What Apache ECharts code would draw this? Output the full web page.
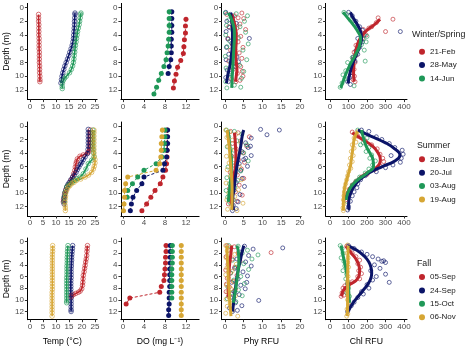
<!DOCTYPE html>
<html><head><meta charset="utf-8">
<script src="https://cdn.jsdelivr.net/npm/echarts@6/dist/echarts.min.js"></script>
<style>html,body{margin:0;padding:0;background:#fff}#c{width:468px;height:351px}</style>
</head><body><div id="c"></div>
<script>
// ---------- tick labels ----------
const depthTicks = [0, 2, 4, 6, 8, 10, 12];
const tempTicks = [0, 5, 10, 15, 20, 25];
const doTicks = [0, 4, 8, 12];
const phyTicks = [0, 5, 10, 15, 20];
const chlTicks = [0, 100, 200, 300, 400];

// ---------- groups ----------
const seasons = ['Winter/Spring', 'Summer', 'Fall'];
const datesWinter = ['21-Feb', '28-May', '14-Jun'];
const datesSummer = ['28-Jun', '20-Jul', '03-Aug', '19-Aug'];
const datesFall = ['05-Sep', '24-Sep', '15-Oct', '06-Nov'];
const palette = ['#bf252c', '#0b1468', '#1f9858', '#d6a634'];

// ---------- Temperature profiles [temp, depth] ----------
const tempFeb21 = [[3.3,1.0],[3.3,1.5],[3.3,2.0],[3.4,2.5],[3.4,3.0],[3.4,3.5],[3.4,4.0],[3.5,4.5],[3.5,5.0],[3.5,5.5],[3.5,6.0],[3.6,6.5],[3.6,7.0],[3.6,7.5],[3.6,8.0],[3.7,8.5],[3.7,9.0],[3.7,9.5],[3.8,10.0],[3.8,10.5],[3.8,10.8]];
const tempMay28 = [[17.3,0.8],[17.3,1.0],[17.2,1.5],[17.1,2.0],[17.1,2.5],[17.0,3.0],[16.9,3.5],[16.8,4.0],[16.7,4.5],[16.5,5.0],[16.2,5.5],[15.8,6.0],[15.3,6.5],[14.9,7.0],[14.4,7.5],[13.9,8.0],[13.4,8.5],[13.0,9.0],[12.6,9.5],[12.3,10.0],[12.1,10.5],[11.9,11.0]];
const tempJun14 = [[19.6,0.8],[19.5,1.0],[19.3,1.5],[19.1,2.0],[18.9,2.5],[18.6,3.0],[18.3,3.5],[18.1,4.0],[17.9,4.5],[17.7,5.0],[17.5,5.5],[17.3,6.0],[17.2,6.5],[17.0,7.0],[16.9,7.5],[16.7,8.0],[16.4,8.5],[15.9,9.0],[15.2,9.5],[14.0,10.0],[13.3,10.3],[12.8,10.6],[12.5,11.0],[12.4,11.5],[12.4,11.8]];
const tempJun28 = [[23.2,0.6],[23.2,1.0],[23.2,1.5],[23.2,2.0],[23.1,2.5],[23.1,3.0],[23.0,3.5],[22.6,3.8],[22.1,4.0],[20.5,4.3],[19.2,4.5],[18.2,4.9],[17.9,5.3],[17.7,5.6],[17.4,6.1],[17.2,6.6],[16.8,7.1],[16.4,7.6],[15.9,8.0],[15.4,8.4],[14.7,8.8],[14.1,9.1],[13.8,9.5],[13.5,9.9],[13.3,10.2],[13.1,10.6],[12.9,11.0],[12.8,11.3]];
const tempJul20 = [[22.4,0.5],[22.4,1.0],[22.4,1.5],[22.4,2.0],[22.4,2.5],[22.4,3.0],[22.3,3.5],[22.1,4.1],[21.2,4.6],[20.5,5.0],[19.9,5.4],[19.4,5.7],[18.8,6.1],[18.2,6.5],[17.7,6.9],[17.0,7.3],[16.4,7.6],[15.7,8.0],[15.1,8.4],[14.6,8.7],[14.1,9.1],[13.8,9.5],[13.5,9.9],[13.3,10.4],[13.1,10.8],[13.1,11.2],[13.1,11.6]];
const tempAug03 = [[24.2,0.6],[24.2,1.0],[24.2,1.5],[24.2,2.0],[24.2,2.5],[24.2,3.0],[24.3,3.5],[24.4,4.0],[24.6,4.6],[23.7,5.1],[22.4,5.6],[21.5,6.4],[20.5,7.1],[19.2,7.6],[18.2,7.85],[17.3,8.1],[16.3,8.35],[15.4,8.6],[14.7,8.85],[14.1,9.1],[13.5,9.9],[13.1,10.6],[13.1,11.3]];
const tempAug19 = [[24.6,0.6],[24.6,1.0],[24.6,1.5],[24.6,2.0],[24.6,2.5],[24.6,3.0],[24.6,3.5],[24.6,4.0],[24.7,4.5],[25.0,5.0],[25.0,5.5],[24.7,6.0],[24.4,6.4],[23.7,6.9],[22.5,7.3],[21.2,7.6],[19.5,7.9],[17.9,8.1],[16.9,8.4],[16.0,8.6],[15.3,8.9],[14.7,9.1],[14.2,9.5],[13.8,9.9],[13.7,10.4],[13.6,10.8],[13.5,11.3],[13.5,11.8],[13.6,12.2],[13.6,12.6]];
const tempSep05 = [[22.1,0.7],[22.0,1.2],[21.9,1.7],[21.8,2.4],[21.6,3.0],[21.4,3.5],[21.2,4.1],[21.0,4.6],[20.8,5.2],[20.5,5.8],[20.4,6.4],[20.3,7.0],[20.2,7.5],[19.9,8.1],[19.3,8.5],[18.6,8.7],[17.6,8.9],[16.7,9.1],[16.0,9.3],[15.8,9.5]];
const tempSep24 = [[16.4,0.7],[16.3,1.2],[16.2,1.7],[16.1,2.2],[16.0,2.7],[16.0,3.2],[15.9,3.7],[15.9,4.2],[15.8,4.7],[15.8,5.2],[15.8,5.7],[15.8,6.2],[15.7,6.7],[15.7,7.2],[15.7,7.7],[15.7,8.2],[15.7,8.7],[15.7,9.2],[15.8,9.7],[15.8,10.2],[15.8,10.7],[15.8,11.2],[15.8,11.7],[15.8,12.0]];
const tempOct15 = [[14.6,0.7],[14.5,1.2],[14.4,1.7],[14.4,2.2],[14.3,2.7],[14.3,3.2],[14.3,3.7],[14.2,4.2],[14.2,4.7],[14.2,5.2],[14.2,5.7],[14.1,6.2],[14.1,6.7],[14.1,7.2],[14.1,7.7],[14.1,8.2],[14.1,8.7],[14.1,9.2],[14.1,9.7],[14.1,10.2],[14.1,10.5]];
const tempNov06 = [[8.7,0.7],[8.7,1.2],[8.7,1.7],[8.6,2.2],[8.6,2.7],[8.6,3.2],[8.6,3.7],[8.6,4.2],[8.6,4.7],[8.6,5.2],[8.6,5.7],[8.6,6.2],[8.6,6.7],[8.6,7.2],[8.6,7.7],[8.6,8.2],[8.5,8.7],[8.5,9.2],[8.5,9.7],[8.5,10.2],[8.5,10.7],[8.5,11.2],[8.5,11.7],[8.5,12.2],[8.5,12.8]];

// ---------- Dissolved oxygen [DO, depth] ----------
const doFeb21 = [[12.0,1.7],[11.9,2.7],[11.9,3.7],[11.7,4.7],[11.6,5.7],[11.5,6.7],[11.0,7.7],[10.4,8.7],[10.1,9.7],[9.8,10.7],[9.6,11.7]];
const doMay28 = [[9.3,0.6],[9.3,1.6],[9.3,2.6],[9.3,3.6],[9.2,4.6],[9.2,5.6],[9.2,6.6],[9.1,7.6],[8.8,8.6],[8.6,9.6]];
const doJun14 = [[8.8,0.6],[8.8,1.6],[8.8,2.6],[8.8,3.6],[8.7,4.6],[8.6,5.6],[8.4,6.6],[8.2,7.6],[7.8,8.6],[7.3,9.6],[6.8,10.6],[6.4,11.6],[5.9,12.6]];
const doJun28 = [[8.4,0.6],[8.4,1.6],[8.4,2.6],[8.4,3.6],[8.4,4.6],[8.3,5.6],[8.1,6.6],[7.6,7.6],[7.1,8.6],[6.1,9.6],[5.3,10.6],[4.5,11.6],[3.6,12.6]];
const doJul20 = [[8.5,0.6],[8.5,1.6],[8.5,2.6],[8.4,3.6],[8.3,4.6],[7.9,5.6],[7.6,6.6],[4.0,7.6],[3.6,8.6],[2.6,9.6],[1.9,10.6],[1.6,11.6],[1.4,12.6]];
const doAug03 = [[8.0,0.6],[8.0,1.6],[7.9,2.6],[7.8,3.6],[7.4,4.6],[6.3,5.6],[4.0,6.6],[2.8,7.6],[1.8,8.6],[0.9,9.6],[0.8,10.6]];
const doAug19 = [[7.5,0.6],[7.4,1.6],[7.3,2.6],[7.3,3.6],[7.2,4.6],[7.0,5.6],[6.3,6.6],[0.9,7.6],[0.5,8.6],[0.3,9.6],[0.3,10.6],[0.2,11.6],[0.1,12.6]];
const doSep05 = [[8.2,0.7],[8.2,1.7],[8.1,2.7],[8.1,3.7],[8.0,4.7],[7.9,5.7],[7.8,6.7],[7.3,7.7],[7.0,8.7],[1.3,9.7],[0.6,10.7]];
const doSep24 = [[9.0,0.7],[9.0,1.7],[9.0,2.7],[9.0,3.7],[8.9,4.7],[8.9,5.7],[8.9,6.7],[8.9,7.7],[8.8,8.7],[8.8,9.7],[8.8,10.7],[8.7,11.7],[8.7,12.7]];
const doOct15 = [[9.4,0.7],[9.4,1.7],[9.4,2.7],[9.4,3.7],[9.3,4.7],[9.3,5.7],[9.3,6.7],[9.3,7.7],[9.3,8.7],[9.3,9.7]];
const doNov06 = [[11.1,0.7],[11.1,1.7],[11.1,2.7],[11.1,3.7],[11.1,4.7],[11.1,5.7],[11.1,6.7],[11.1,7.7],[11.1,8.7],[11.1,9.7],[11.1,10.7],[11.1,11.7],[11.1,12.7]];

// ---------- Phycocyanin RFU: observations & smoothed [phy, depth] ----------
const phyPtFeb21 = [[0.5,1.0],[2.5,1.2],[4.5,0.8],[3.5,1.5],[5.0,1.6],[2.0,2.2],[4.0,2.4],[1.0,2.8],[3.2,3.0],[5.5,3.2],[2.8,3.8],[4.2,4.2],[0.8,4.5],[3.5,5.0],[2.0,5.4],[4.8,5.8],[1.5,6.2],[3.8,6.6],[2.6,7.0],[4.5,7.4],[1.0,7.8],[3.0,8.2],[4.2,8.6],[2.2,9.0],[4.6,9.3],[3.3,9.6],[4.8,10.0],[1.8,10.4],[4.0,10.6],[2.9,10.8]];
const phyPtMay28 = [[0.2,0.7],[1.5,1.0],[2.0,1.4],[0.5,2.0],[3.0,2.3],[1.2,2.9],[0.3,3.5],[2.4,3.8],[6.5,4.5],[0.8,4.6],[1.8,5.2],[0.4,5.8],[2.6,6.1],[1.0,6.8],[3.2,7.2],[0.3,7.6],[3.6,7.9],[1.6,8.0],[2.8,8.6],[0.6,9.1],[1.3,9.6],[0.2,10.2],[0.9,10.8]];
const phyPtJun14 = [[0.1,0.8],[3.0,0.9],[6.0,1.2],[1.0,1.8],[5.2,2.0],[0.4,2.6],[4.0,2.8],[2.0,3.3],[5.5,3.6],[0.2,4.0],[3.6,4.4],[1.3,4.9],[6.2,5.3],[0.5,5.7],[4.8,6.2],[2.6,6.8],[0.1,7.1],[5.8,7.6],[1.6,8.0],[3.9,8.4],[0.3,8.8],[5.0,9.3],[1.1,9.8],[4.4,10.3],[0.2,10.8],[2.5,11.3],[4.2,11.6],[0.5,11.7]];
const phySmFeb21 = [[1.8,1.0],[2.4,2.0],[2.8,3.0],[3.0,4.0],[3.0,5.0],[2.9,6.0],[2.9,7.0],[3.0,8.0],[3.2,9.0],[3.0,10.0],[2.8,10.8]];
const phySmMay28 = [[1.5,0.8],[1.8,2.0],[2.0,3.0],[2.0,4.0],[2.0,5.0],[1.9,6.0],[1.7,7.0],[1.5,8.0],[1.1,9.0],[0.7,10.0],[0.4,11.0]];
const phySmJun14 = [[0.9,0.8],[1.6,1.5],[2.2,2.5],[2.5,3.5],[2.5,4.5],[2.4,5.5],[2.3,6.5],[2.2,7.5],[2.1,8.5],[2.0,9.5],[1.9,10.5],[1.8,11.7]];

const phyPtJun28 = [[1.5,0.8],[3.5,1.0],[6.5,1.6],[4.2,2.2],[2.0,2.6],[5.8,3.0],[3.0,3.4],[4.8,4.0],[1.8,4.5],[3.6,5.0],[5.2,5.4],[2.6,5.9],[4.4,6.4],[1.4,6.9],[3.3,7.3],[5.0,7.8],[2.2,8.3],[3.8,8.8],[1.2,9.3],[2.8,9.8],[4.6,10.3],[1.9,10.8],[3.2,11.2],[0.9,11.6]];
const phyPtJul20 = [[9.5,0.5],[11.2,1.3],[14.5,0.6],[7.0,1.8],[5.5,2.5],[6.8,3.0],[6.2,3.2],[4.5,3.8],[7.0,4.4],[5.5,4.8],[5.0,5.0],[3.8,5.6],[6.0,6.0],[4.2,6.6],[2.0,7.2],[4.6,7.8],[3.0,8.4],[5.2,9.0],[2.4,9.6],[4.0,10.2],[1.6,10.8],[3.5,11.3],[2.2,11.8],[3.0,12.3],[2.0,12.6]];
const phyPtAug03 = [[0.4,0.6],[2.5,0.8],[4.5,1.2],[1.0,1.6],[3.2,2.2],[5.8,2.8],[0.6,3.1],[2.4,3.6],[5.0,4.0],[1.5,4.6],[6.2,5.2],[3.0,5.6],[0.8,6.1],[4.2,6.7],[1.9,7.2],[0.5,7.7],[3.4,8.1],[1.2,8.6],[2.6,9.1],[0.3,9.6],[1.8,10.1],[0.7,10.6],[2.2,11.0],[1.3,11.4]];
const phyPtAug19 = [[0.2,0.6],[1.2,0.9],[3.0,1.2],[0.5,1.7],[2.0,2.1],[4.2,2.5],[0.8,3.0],[1.6,3.5],[3.4,4.0],[0.4,4.5],[2.4,5.0],[1.1,5.5],[3.8,6.0],[0.6,6.5],[2.8,7.0],[1.4,7.5],[4.4,8.0],[0.3,8.5],[2.2,9.0],[3.6,9.5],[1.0,10.0],[2.6,10.5],[0.5,11.0],[4.8,11.5],[1.8,12.0],[0.7,12.4],[3.2,12.6]];
const phySmJun28 = [[2.5,1.0],[2.7,2.0],[2.8,3.0],[2.9,4.0],[2.9,5.0],[2.8,6.0],[2.5,7.0],[2.2,8.0],[2.0,9.0],[1.8,10.0],[1.7,11.0],[1.6,11.6]];
const phySmJul20 = [[5.0,0.6],[4.6,1.5],[4.2,3.0],[3.7,4.5],[3.2,6.0],[2.8,7.5],[2.5,9.0],[2.1,10.5],[2.0,11.5],[2.3,12.5]];
const phySmAug03 = [[0.8,0.6],[1.1,2.0],[1.4,3.5],[1.7,5.0],[1.7,6.5],[1.5,8.0],[1.2,9.5],[1.0,10.5],[0.9,11.3]];
const phySmAug19 = [[0.6,0.6],[0.9,2.0],[1.2,3.5],[1.4,5.0],[1.6,6.5],[1.8,8.0],[1.9,9.5],[1.9,11.0],[1.8,12.5]];

const phyPtSep05 = [[0.5,0.7],[2.5,0.9],[12.3,1.9],[1.0,1.5],[3.5,2.0],[0.3,2.6],[2.0,3.0],[4.0,3.4],[0.8,3.9],[2.6,4.4],[0.2,4.9],[1.5,5.4],[3.2,5.8],[0.6,6.3],[2.2,6.8],[0.4,7.3],[1.2,7.8],[2.8,8.2],[0.3,8.6],[1.8,9.0],[0.9,9.4]];
const phyPtSep24 = [[15.4,1.1],[5.2,0.8],[7.5,1.3],[4.0,1.8],[6.3,2.4],[3.2,3.0],[5.5,3.5],[7.0,4.2],[2.6,4.6],[4.8,5.2],[6.0,5.9],[3.5,6.4],[1.8,7.0],[5.8,7.0],[4.2,7.5],[5.4,8.1],[2.4,8.6],[3.8,9.1],[1.5,9.6],[9.0,10.1],[2.8,10.5],[4.5,11.0],[1.2,11.4],[3.3,11.8],[2.0,12.0]];
const phyPtOct15 = [[1.0,0.7],[3.5,0.8],[6.0,1.5],[4.6,2.0],[8.8,2.3],[7.2,3.0],[2.0,3.2],[5.0,3.8],[3.0,4.4],[6.3,4.8],[1.5,5.4],[4.2,6.0],[2.4,6.6],[5.2,7.2],[0.8,7.8],[3.6,8.3],[1.9,8.8],[4.6,9.3],[0.6,9.8],[2.9,10.3]];
const phyPtNov06 = [[0.2,0.7],[1.5,1.0],[0.6,1.6],[2.6,2.2],[0.3,2.8],[1.2,3.4],[3.0,3.9],[0.5,4.5],[1.9,5.1],[0.2,5.7],[1.0,6.3],[2.3,6.9],[0.4,7.5],[1.6,8.1],[0.8,8.7],[2.8,9.3],[0.3,9.9],[1.4,10.5],[0.6,11.1],[2.0,11.7],[0.2,12.3],[3.4,12.8]];
const phySmSep05 = [[1.8,0.7],[1.6,2.0],[1.3,3.5],[1.1,5.0],[1.0,6.5],[0.9,8.0],[0.9,9.0],[1.0,9.5]];
const phySmSep24 = [[5.0,0.7],[4.5,2.0],[4.0,3.5],[3.5,5.0],[3.1,6.5],[2.8,8.0],[2.5,9.5],[2.2,11.0],[2.0,12.0]];
const phySmOct15 = [[3.2,0.7],[3.6,2.0],[3.7,3.5],[3.5,5.0],[3.2,6.5],[2.9,8.0],[2.5,9.5],[2.2,10.5]];
const phySmNov06 = [[0.5,0.7],[0.6,2.5],[0.8,4.5],[0.9,6.5],[1.1,8.5],[1.3,10.5],[1.5,12.0],[1.6,12.8]];

// ---------- Chlorophyll RFU: observations & smoothed [chl, depth] ----------
const chlPtFeb21 = [[340,1.7],[260,1.5],[250,2.2],[225,2.8],[210,3.0],[180,3.2],[300,3.5],[195,4.0],[175,4.5],[160,5.0],[140,5.5],[150,6.0],[130,6.5],[140,7.0],[125,7.5],[135,8.0],[125,8.5],[130,9.0],[122,9.5],[132,10.0],[125,10.5],[135,10.8]];
const chlPtMay28 = [[100,0.7],[120,1.2],[140,2.0],[160,2.8],[175,3.3],[380,3.5],[185,4.0],[150,4.5],[175,5.0],[160,5.8],[140,6.3],[150,6.8],[125,7.2],[135,7.8],[115,8.3],[110,9.0],[120,9.5],[105,10.2],[95,10.8],[110,11.2]];
const chlPtJun14 = [[75,0.7],[90,1.0],[110,1.8],[130,2.4],[145,3.0],[165,3.8],[200,4.2],[180,4.6],[195,5.0],[170,5.4],[150,6.0],[185,6.2],[140,6.8],[120,7.3],[190,7.8],[95,8.0],[110,8.6],[85,9.2],[70,9.8],[80,10.4],[65,11.0],[130,11.4],[55,11.6]];
const chlSmFeb21 = [[270,1.7],[240,2.5],[200,3.3],[170,4.2],[150,5.2],[140,6.2],[133,7.2],[128,8.2],[127,9.2],[128,10.0],[130,10.8]];
const chlSmMay28 = [[110,0.7],[125,1.5],[148,2.5],[165,3.5],[170,4.5],[162,5.5],[148,6.5],[132,7.5],[118,8.5],[108,9.5],[102,10.3],[98,11.0]];
const chlSmJun14 = [[70,0.7],[95,1.5],[125,2.5],[150,3.5],[165,4.5],[160,5.5],[145,6.5],[125,7.5],[105,8.5],[88,9.5],[74,10.5],[58,11.7]];

const chlPtJun28 = [[120,0.9],[150,1.5],[190,2.2],[225,2.8],[255,3.4],[270,4.2],[285,4.8],[290,5.3],[270,5.9],[240,6.5],[200,7.2],[170,7.6],[140,8.3],[120,8.8],[105,9.4],[95,10.0],[90,10.6],[85,11.0]];
const chlPtJul20 = [[170,0.6],[210,0.8],[250,1.6],[280,2.0],[320,2.6],[350,3.2],[390,3.6],[395,4.2],[330,4.4],[385,4.8],[380,5.4],[340,5.8],[300,6.2],[250,6.8],[190,7.4],[165,8.0],[150,8.6],[145,9.2],[130,9.8],[120,10.4],[110,11.2],[100,12.0],[95,12.5]];
const chlPtAug03 = [[150,0.6],[175,1.0],[200,1.8],[180,2.5],[165,2.8],[210,3.2],[195,3.8],[225,4.3],[215,4.8],[245,5.2],[230,5.8],[210,6.4],[190,7.0],[160,7.6],[140,8.2],[120,8.8],[110,9.4],[100,10.0],[95,10.6],[90,11.2]];
const chlPtAug19 = [[150,0.8],[135,1.2],[130,1.8],[140,2.4],[120,2.8],[130,3.3],[115,3.8],[125,4.4],[110,4.8],[120,5.3],[105,5.8],[112,6.3],[100,6.8],[95,7.4],[90,8.0],[85,8.6],[80,9.2],[78,9.8],[75,10.4],[72,11.0],[75,11.6],[70,12.2],[72,12.6]];
const chlSmJun28 = [[120,1.0],[175,2.0],[230,3.0],[260,4.0],[272,5.0],[268,5.6],[245,6.3],[200,7.0],[150,8.0],[115,9.0],[95,10.0],[85,11.0]];
const chlSmJul20 = [[150,0.6],[220,1.5],[300,2.5],[355,3.5],[378,4.3],[350,5.2],[285,6.0],[210,7.0],[160,8.0],[130,9.0],[112,10.0],[102,11.0],[100,12.0],[105,12.5]];
const chlSmAug03 = [[170,0.6],[178,1.5],[195,3.0],[215,4.0],[232,5.0],[235,6.0],[200,7.0],[150,8.0],[115,9.0],[95,10.0],[88,11.0]];
const chlSmAug19 = [[150,0.8],[132,1.8],[125,3.0],[120,4.0],[115,5.0],[110,6.0],[100,7.0],[90,8.0],[80,9.0],[75,10.0],[73,11.0],[72,12.0],[72,12.6]];

const chlPtSep05 = [[90,0.8],[105,1.5],[120,2.0],[140,2.6],[160,3.2],[150,3.8],[165,4.4],[155,5.0],[170,5.5],[150,6.0],[160,6.4],[120,6.9],[95,7.2],[80,7.6],[70,8.0],[85,8.0],[90,8.4],[65,8.8],[75,9.2],[60,9.4]];
const chlPtSep24 = [[100,0.7],[130,1.2],[170,1.8],[200,2.2],[230,2.6],[260,3.0],[290,3.3],[280,3.4],[300,3.6],[240,4.0],[270,4.6],[220,5.0],[300,5.6],[250,6.0],[230,6.6],[320,7.0],[200,7.4],[210,8.0],[170,8.6],[180,9.0],[150,9.6],[130,10.4],[115,11.0],[100,11.6],[95,12.0]];
const chlPtOct15 = [[55,0.7],[65,1.2],[70,2.0],[60,2.8],[75,3.4],[80,4.2],[70,5.0],[90,5.6],[85,6.4],[95,7.2],[100,8.0],[90,8.8],[105,9.4],[100,10.2]];
const chlPtNov06 = [[95,0.6],[100,1.2],[92,2.0],[98,2.8],[95,3.6],[100,4.4],[93,5.2],[97,6.0],[95,6.8],[100,7.6],[93,8.4],[97,9.2],[95,10.0],[100,10.8],[92,11.6],[96,12.4],[90,12.8]];
const chlSmSep05 = [[85,0.8],[115,2.0],[140,3.0],[155,4.0],[160,5.0],[155,6.0],[140,6.7],[110,7.3],[85,7.9],[70,8.5],[65,9.0],[62,9.4]];
const chlSmSep24 = [[95,0.7],[145,1.5],[185,2.5],[210,3.5],[222,4.5],[225,5.5],[218,6.5],[200,7.5],[175,8.5],[150,9.5],[125,10.5],[105,11.5],[95,12.0]];
const chlSmOct15 = [[60,0.7],[68,2.0],[78,3.5],[88,5.0],[95,6.5],[100,8.0],[103,9.5],[105,10.5]];
const chlSmNov06 = [[98,0.7],[97,2.5],[96,4.5],[95,6.5],[95,8.5],[95,10.5],[94,12.0],[92,12.8]];

// ---------- panel table (built from the arrays above) ----------
const rowDates = [datesWinter, datesSummer, datesFall];
const tempRows = [[tempFeb21, tempMay28, tempJun14], [tempJun28, tempJul20, tempAug03, tempAug19], [tempSep05, tempSep24, tempOct15, tempNov06]];
const doRows = [[doFeb21, doMay28, doJun14], [doJun28, doJul20, doAug03, doAug19], [doSep05, doSep24, doOct15, doNov06]];
const phyPtRows = [[phyPtFeb21, phyPtMay28, phyPtJun14], [phyPtJun28, phyPtJul20, phyPtAug03, phyPtAug19], [phyPtSep05, phyPtSep24, phyPtOct15, phyPtNov06]];
const phySmRows = [[phySmFeb21, phySmMay28, phySmJun14], [phySmJun28, phySmJul20, phySmAug03, phySmAug19], [phySmSep05, phySmSep24, phySmOct15, phySmNov06]];
const chlPtRows = [[chlPtFeb21, chlPtMay28, chlPtJun14], [chlPtJun28, chlPtJul20, chlPtAug03, chlPtAug19], [chlPtSep05, chlPtSep24, chlPtOct15, chlPtNov06]];
const chlSmRows = [[chlSmFeb21, chlSmMay28, chlSmJun14], [chlSmJun28, chlSmJul20, chlSmAug03, chlSmAug19], [chlSmSep05, chlSmSep24, chlSmOct15, chlSmNov06]];

const FONT = '"Liberation Sans", Arial, sans-serif';
const cols = [
  {left: 27.4, width: 69.7, min: -1, max: 25.8, ticks: tempTicks, title: 'Temp (°C)'},
  {left: 120.9, width: 78.2, min: -0.4, max: 14.5, ticks: doTicks, title: 'DO (mg L\u207B\u00B9)'},
  {left: 221.6, width: 79.5, min: -0.9, max: 20.3, ticks: phyTicks, title: 'Phy RFU'},
  {left: 325.6, width: 81.4, min: -24, max: 416, ticks: chlTicks, title: 'Chl RFU'}
];
const rows = [{top: 3.4, height: 96.2}, {top: 122, height: 94}, {top: 238, height: 81.7}];
const legendTop = [46.7, 154.3, 272];
const legendTitleY = [35, 145.7, 264];

const grid = [], xAxis = [], yAxis = [], series = [];
const axisLine = {show: true, onZero: false, lineStyle: {color: '#000', width: 1}};
rows.forEach((r, ri) => {
  cols.forEach((c, ci) => {
    const gi = ri * 4 + ci;
    grid.push({left: c.left, top: r.top, width: c.width, height: r.height, containLabel: false});
    xAxis.push({
      gridIndex: gi, type: 'value', min: c.min, max: c.max,
      axisLine, splitLine: {show: false},
      axisTick: {show: true, length: 2.5, customValues: c.ticks, lineStyle: {color: '#333', width: 1}},
      axisLabel: {customValues: c.ticks, fontSize: 8, color: '#4d4d4d', margin: 3, fontFamily: FONT},
      name: ri === 2 ? c.title : '', nameLocation: 'middle', nameGap: 17,
      nameTextStyle: {fontSize: 8.7, color: '#000', fontFamily: FONT}
    });
    yAxis.push({
      gridIndex: gi, type: 'value', inverse: true, min: -0.6, max: 13.4,
      axisLine, splitLine: {show: false},
      axisTick: {show: true, length: 2.5, customValues: depthTicks, lineStyle: {color: '#333', width: 1}},
      axisLabel: {customValues: depthTicks, fontSize: 8, color: '#4d4d4d', margin: 3.5, fontFamily: FONT},
      name: ci === 0 ? 'Depth (m)' : '', nameLocation: 'middle', nameGap: 15,
      nameTextStyle: {fontSize: 8.7, color: '#000', fontFamily: FONT}
    });
  });
  const dates = rowDates[ri];
  const base = ri * 4;
  dates.forEach((d, k) => {
    const col = palette[k];
    const ring = {color: 'rgba(0,0,0,0)', borderColor: col, borderWidth: 0.8};
    // temperature: dense profile of open circles
    series.push({name: d, type: 'line', xAxisIndex: base, yAxisIndex: base, data: tempRows[ri][k],
      showSymbol: false, lineStyle: {color: col, width: 1.6}, z: 1, silent: true});
    series.push({name: d, type: 'scatter', xAxisIndex: base, yAxisIndex: base, data: tempRows[ri][k],
      symbol: 'circle', symbolSize: 4.5, itemStyle: ring, z: 2, silent: true});
    // DO: filled points joined by dashed line
    series.push({name: d, type: 'line', xAxisIndex: base + 1, yAxisIndex: base + 1, data: doRows[ri][k],
      symbol: 'circle', symbolSize: 5, showSymbol: true, itemStyle: {color: col},
      lineStyle: {color: col, width: 1, type: [3, 2]}, z: 2, silent: true});
    // Phy
    series.push({name: d, type: 'scatter', xAxisIndex: base + 2, yAxisIndex: base + 2, data: phyPtRows[ri][k],
      symbol: 'circle', symbolSize: 4, itemStyle: ring, z: 2, silent: true});
    // Chl
    series.push({name: d, type: 'scatter', xAxisIndex: base + 3, yAxisIndex: base + 3, data: chlPtRows[ri][k],
      symbol: 'circle', symbolSize: 4, itemStyle: ring, z: 2, silent: true});
  });
  dates.forEach((d, k) => {
    const col = palette[k];
    series.push({name: d, type: 'line', xAxisIndex: base + 2, yAxisIndex: base + 2, data: phySmRows[ri][k],
      smooth: 0.5, showSymbol: false, lineStyle: {color: col, width: 3}, z: 4, silent: true});
    series.push({name: d, type: 'line', xAxisIndex: base + 3, yAxisIndex: base + 3, data: chlSmRows[ri][k],
      smooth: 0.5, showSymbol: false, lineStyle: {color: col, width: 3}, z: 4, silent: true});
  });
});

const legend = rowDates.map((dates, ri) => ({
  orient: 'vertical', left: 419, top: legendTop[ri], padding: 0,
  icon: 'circle', itemWidth: 6, itemHeight: 6, itemGap: 3.4, selectedMode: false,
  textStyle: {fontSize: 8, color: '#1a1a1a', fontFamily: FONT, lineHeight: 10},
  data: dates.map((d, k) => ({name: d, itemStyle: {color: palette[k], borderWidth: 0, opacity: 1}}))
}));

const graphic = seasons.map((s, ri) => ({
  type: 'text', x: ri === 0 ? 412 : 417, y: legendTitleY[ri],
  style: {text: s, fontSize: 8.8, fontFamily: FONT, fill: '#1a1a1a', verticalAlign: 'middle'}
}));

const chart = echarts.init(document.getElementById('c'), null, {renderer: 'canvas'});
chart.setOption({
  animation: false, backgroundColor: '#fff',
  grid, xAxis, yAxis, series, legend, graphic
});
</script></body></html>
